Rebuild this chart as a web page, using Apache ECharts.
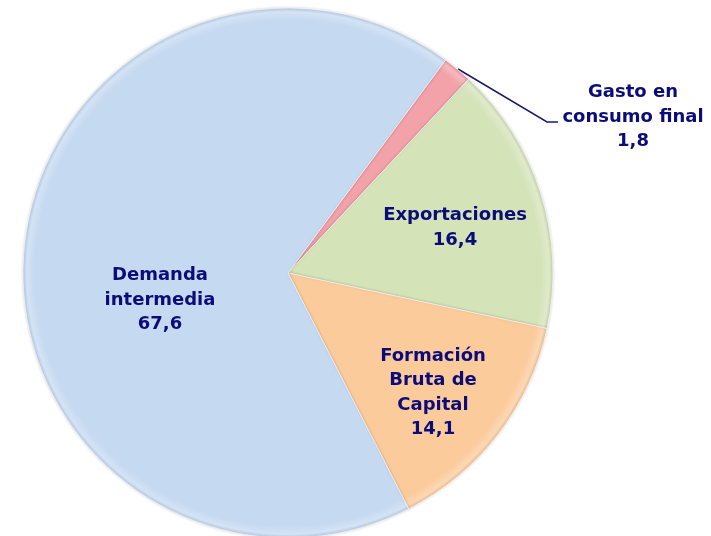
<!DOCTYPE html>
<html>
<head>
<meta charset="utf-8">
<script src="https://cdn.jsdelivr.net/npm/echarts@6/dist/echarts.min.js"></script>
<style>html,body{margin:0;padding:0;background:#fff}#c{width:711px;height:536px}</style>
</head>
<body>
<div id="c"></div>
<script>
var categories = ['Gasto en\nconsumo final', 'Exportaciones', 'Formación\nBruta de\nCapital', 'Demanda\nintermedia'];
var values = [1.8, 16.4, 14.1, 67.6];
var valueLabels = ['1,8', '16,4', '14,1', '67,6'];
var colors = ['#F2A2A8', '#D5E3B9', '#FBCB9C', '#C5D9F1'];
var labelPos = [[633, 117], [455, 228], [433, 393], [160, 300]];

var CX = 288, CY = 273, R = 265;

function shade(hex, f) {
  var n = parseInt(hex.slice(1), 16);
  var r = (n >> 16) & 255, g = (n >> 8) & 255, b = n & 255;
  function m(c) { return Math.max(0, Math.min(255, Math.round(f > 0 ? c + (255 - c) * f : c * (1 + f)))); }
  return 'rgb(' + m(r) + ',' + m(g) + ',' + m(b) + ')';
}

var chart = echarts.init(document.getElementById('c'));
var data = categories.map(function (c, i) {
  return {
    name: c,
    value: values[i],
    itemStyle: {
      color: new echarts.graphic.RadialGradient(CX, CY, R, [
        { offset: 0, color: colors[i] },
        { offset: 0.955, color: colors[i] },
        { offset: 0.985, color: shade(colors[i], 0.25) },
        { offset: 1, color: shade(colors[i], -0.06) }
      ], true)
    },
    label: i === 0 ? { position: 'outside' } : { position: 'inside' },
    labelLine: { show: i === 0 }
  };
});

chart.setOption({
  animation: false,
  series: [{
    type: 'pie',
    center: [CX, CY],
    radius: R,
    startAngle: 53.5,
    clockwise: true,
    avoidLabelOverlap: false,
    data: data,
    itemStyle: {
      borderColor: 'rgba(255,255,255,0.6)',
      borderWidth: 1,
      shadowBlur: 3,
      shadowColor: 'rgba(0,0,0,0.18)'
    },
    label: {
      show: true,
      formatter: function (p) { return p.name + '\n' + valueLabels[p.dataIndex]; },
      fontFamily: 'DejaVu Sans',
      fontWeight: 'bold',
      fontSize: 18,
      lineHeight: 24.5,
      color: '#0c0c78',
      align: 'center',
      verticalAlign: 'middle'
    },
    labelLine: {
      lineStyle: { color: '#1a1a6e', width: 1.5 }
    },
    labelLayout: function (p) {
      var pos = labelPos[p.dataIndex];
      var out = { x: pos[0], y: pos[1], align: 'center', verticalAlign: 'middle' };
      if (p.dataIndex === 0) {
        out.labelLinePoints = [[458, 69], [547, 122], [558, 122]];
      }
      return out;
    }
  }]
});
</script>
</body>
</html>
